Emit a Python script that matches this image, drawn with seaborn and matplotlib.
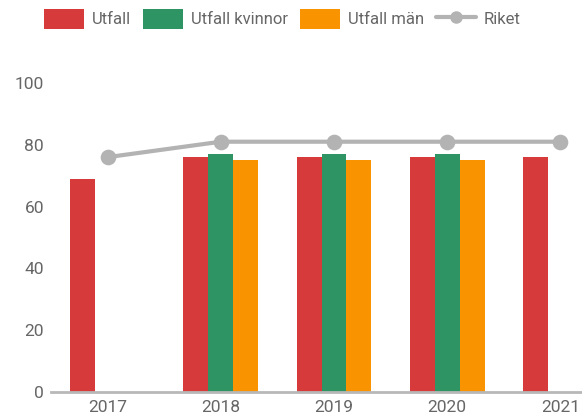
import matplotlib

matplotlib.use("Agg")
import matplotlib.pyplot as plt
import numpy as np
import pandas as pd
import seaborn as sns
from matplotlib.lines import Line2D
from matplotlib.patches import Patch

YEARS = ["2017", "2018", "2019", "2020", "2021"]
UTFALL = [69, 76, 76, 76, 76]
UTFALL_KVINNOR = [np.nan, 77, 77, 77, np.nan]
UTFALL_MAN = [np.nan, 75, 75, 75, np.nan]
RIKET = [76, 81, 81, 81, 81]

SERIES = ["Utfall", "Utfall kvinnor", "Utfall män"]
COLORS = ["#d63a3b", "#2e9464", "#fa9300"]
LINE_COLOR = "#b3b3b3"
TEXT_COLOR = "#666666"


def main() -> None:
    sns.set_style("white")
    plt.rcParams["font.family"] = ["Roboto", "DejaVu Sans"]

    bars = pd.DataFrame(
        {
            "year": YEARS * 3,
            "serie": [s for s in SERIES for _ in YEARS],
            "value": UTFALL + UTFALL_KVINNOR + UTFALL_MAN,
        }
    )
    riket = pd.DataFrame({"year": YEARS, "value": RIKET})

    fig = plt.figure(figsize=(5.82, 4.18), dpi=100)
    ax = fig.add_axes([51 / 582, 26 / 418, 566 / 582, 309 / 418])

    sns.barplot(
        data=bars, x="year", y="value", hue="serie", order=YEARS, hue_order=SERIES,
        palette=COLORS, saturation=1, width=0.66, dodge=True, errorbar=None,
        legend=False, ax=ax, linewidth=0,
    )
    sns.pointplot(
        data=riket, x="year", y="value", order=YEARS, color=LINE_COLOR,
        markers="o", markersize=9, linewidth=3, errorbar=None, ax=ax,
    )

    ax.set_ylim(0, 100)
    ax.set_xlim(-0.5, 4.5)
    ax.set_yticks([0, 20, 40, 60, 80, 100])
    ax.set_xlabel("")
    ax.set_ylabel("")
    sns.despine(ax=ax, left=True, top=True, right=True)
    ax.spines["bottom"].set_color("#b8b8b8")
    ax.spines["bottom"].set_linewidth(2)
    ax.tick_params(axis="both", length=0, labelsize=12.5, colors=TEXT_COLOR, pad=6)
    ax.tick_params(axis="y", pad=5)

    handles = [Patch(facecolor=c, edgecolor="none") for c in COLORS]
    handles.append(Line2D([0], [0], color=LINE_COLOR, lw=3, marker="o", markersize=8))
    fig.legend(
        handles, SERIES + ["Riket"], loc="center", bbox_to_anchor=(0.485, 0.955),
        ncol=4, frameon=False, fontsize=12, labelcolor=TEXT_COLOR,
        handlelength=2.4, handleheight=1.45, handletextpad=0.45, columnspacing=0.75,
    )

    fig.savefig("out.png", dpi=100)
    plt.close(fig)


if __name__ == "__main__":
    main()
